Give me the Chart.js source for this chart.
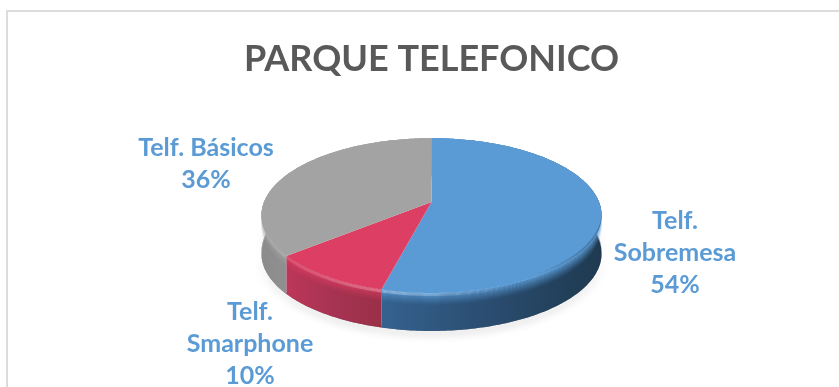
<!DOCTYPE html>
<html>
<head>
<meta charset="utf-8">
<title>Parque telefonico</title>
<script src="https://cdn.jsdelivr.net/npm/chart.js@4"></script>
<style>
html, body { margin: 0; padding: 0; background: #fff; overflow: hidden; }
#wrap { position: relative; width: 839px; height: 387px; overflow: hidden; }
#frame { position: absolute; left: 6px; top: 10px; width: 900px; height: 500px; border: 2px solid #dcdcdc; box-sizing: border-box; }
#holder { position: absolute; left: 0; top: 0; width: 863px; height: 387px; }
</style>
</head>
<body>
<div id="wrap">
<div id="frame"></div>
<div id="holder"><canvas id="myChart" width="863" height="387"></canvas></div>
</div>
<script>
const chartTitle = 'PARQUE TELEFONICO';
const categories = ['Telf. Sobremesa', 'Telf. Smarphone', 'Telf. Básicos'];
const shares = [54, 10, 36];
const labelLines = [['Telf.', 'Sobremesa', '54%'], ['Telf.', 'Smarphone', '10%'], ['Telf. Básicos', '36%']];

const topColors = ['#5B9BD5', '#DC3F63', '#A3A3A3'];
const sideStops = [
    ['#34628f', '#2a4c6f', '#1f3a50'],
    ['#bd3759', '#a63352', '#9a3048'],
    ['#8c8c8c', '#979797', '#a8a8a8']
];
// first line centre of each label, in page pixels
const labelPos = [[675, 221], [250, 312], [206, 148]];
const labelLeading = 32;

// tilt of the disc: how a point of the flat pie lands on the page
const squash = 0.448;
const perspective = 0.174;
const depth = 38;

function project(el, angle, drop) {
    const u = Math.cos(angle), v = Math.sin(angle);
    const w = 1 / (1 - perspective * v);
    return [el.x + el.outerRadius * u * w, el.y + el.outerRadius * squash * v * w + drop];
}

function edgePoints(el, drop) {
    const pts = [];
    const steps = Math.ceil((el.endAngle - el.startAngle) * 60);
    for (let i = 0; i <= steps; i++) {
        pts.push(project(el, el.startAngle + (el.endAngle - el.startAngle) * i / steps, drop));
    }
    return pts;
}

function band(ctx, el, dropA, dropB) {
    const a = edgePoints(el, dropA), b = edgePoints(el, dropB).reverse();
    ctx.beginPath();
    a.concat(b).forEach((p, i) => i ? ctx.lineTo(p[0], p[1]) : ctx.moveTo(p[0], p[1]));
    ctx.closePath();
}

function slicePath(ctx, el) {
    ctx.beginPath();
    ctx.moveTo(el.x, el.y);
    edgePoints(el, 0).forEach(p => ctx.lineTo(p[0], p[1]));
    ctx.closePath();
}

function withAlpha(hex, alpha) {
    const n = parseInt(hex.slice(1), 16);
    return `rgba(${n >> 16},${(n >> 8) & 255},${n & 255},${alpha})`;
}

const disc3d = {
    id: 'disc3d',
    beforeDatasetDraw(chart, args) {
        const ctx = chart.ctx;
        const arcs = args.meta.data;
        const r = arcs[0].outerRadius;
        ctx.save();

        // soft shadow under the disc
        ctx.save();
        ctx.shadowColor = 'rgba(0,0,0,0.35)';
        ctx.shadowBlur = 8;
        ctx.shadowOffsetY = 3;
        ctx.fillStyle = '#888';
        arcs.forEach(el => {
            band(ctx, el, depth - 2, depth);
            ctx.fill();
        });
        ctx.restore();

        // side wall, with the bevel and a light strip right under the top edge
        const light = ctx.createLinearGradient(arcs[0].x - r, 0, arcs[0].x + r, 0);
        light.addColorStop(0, 'rgba(255,255,255,0.08)');
        light.addColorStop(0.4, 'rgba(255,255,255,0.28)');
        light.addColorStop(0.75, 'rgba(255,255,255,0)');
        arcs.forEach((el, i) => {
            const xs = edgePoints(el, 0).map(p => p[0]);
            const g = ctx.createLinearGradient(Math.min(...xs), 0, Math.max(...xs), 0);
            sideStops[i].forEach((c, k) => g.addColorStop(k / (sideStops[i].length - 1), c));
            ctx.fillStyle = g;
            band(ctx, el, 0, depth);
            ctx.fill();
            for (let d = 0; d < 13; d++) {
                ctx.fillStyle = withAlpha(topColors[i], Math.pow(1 - d / 13, 1.5));
                band(ctx, el, d, d + 1);
                ctx.fill();
            }
            ctx.fillStyle = light;
            band(ctx, el, 0, 3);
            ctx.fill();
        });

        // top face
        arcs.forEach((el, i) => {
            slicePath(ctx, el);
            ctx.fillStyle = topColors[i];
            ctx.fill();
        });

        // top face darkens a little at the right hand rim
        const dark = ctx.createLinearGradient(arcs[0].x + r * 0.6, 0, arcs[0].x + r, 0);
        dark.addColorStop(0, 'rgba(20,50,80,0)');
        dark.addColorStop(1, 'rgba(20,50,80,0.35)');
        arcs.forEach(el => {
            ctx.save();
            slicePath(ctx, el);
            ctx.clip();
            ctx.fillStyle = dark;
            band(ctx, el, -3, 0);
            ctx.fill();
            ctx.restore();
        });

        ctx.restore();
        return false;
    }
};

const sliceLabels = {
    id: 'sliceLabels',
    afterDraw(chart) {
        const ctx = chart.ctx;
        ctx.save();
        ctx.font = 'bold 25px Lato';
        ctx.fillStyle = '#5B9BD5';
        ctx.textAlign = 'center';
        ctx.textBaseline = 'middle';
        labelLines.forEach((lines, i) => {
            lines.forEach((line, k) => {
                ctx.fillText(line, labelPos[i][0], labelPos[i][1] + k * labelLeading);
            });
        });
        ctx.restore();
    }
};

new Chart(document.getElementById('myChart').getContext('2d'), {
    type: 'pie',
    data: {
        labels: categories,
        datasets: [{ data: shares, backgroundColor: topColors, borderWidth: 0, radius: 167.5 }]
    },
    options: {
        responsive: false,
        animation: false,
        events: [],
        layout: { padding: { top: 0, bottom: 64 } },
        plugins: {
            legend: { display: false },
            tooltip: { enabled: false },
            title: {
                display: true,
                text: chartTitle,
                color: '#595959',
                font: { family: 'Lato', weight: 'bold', size: 36 },
                padding: { top: 38, bottom: 0 }
            }
        }
    },
    plugins: [disc3d, sliceLabels]
});
</script>
</body>
</html>
